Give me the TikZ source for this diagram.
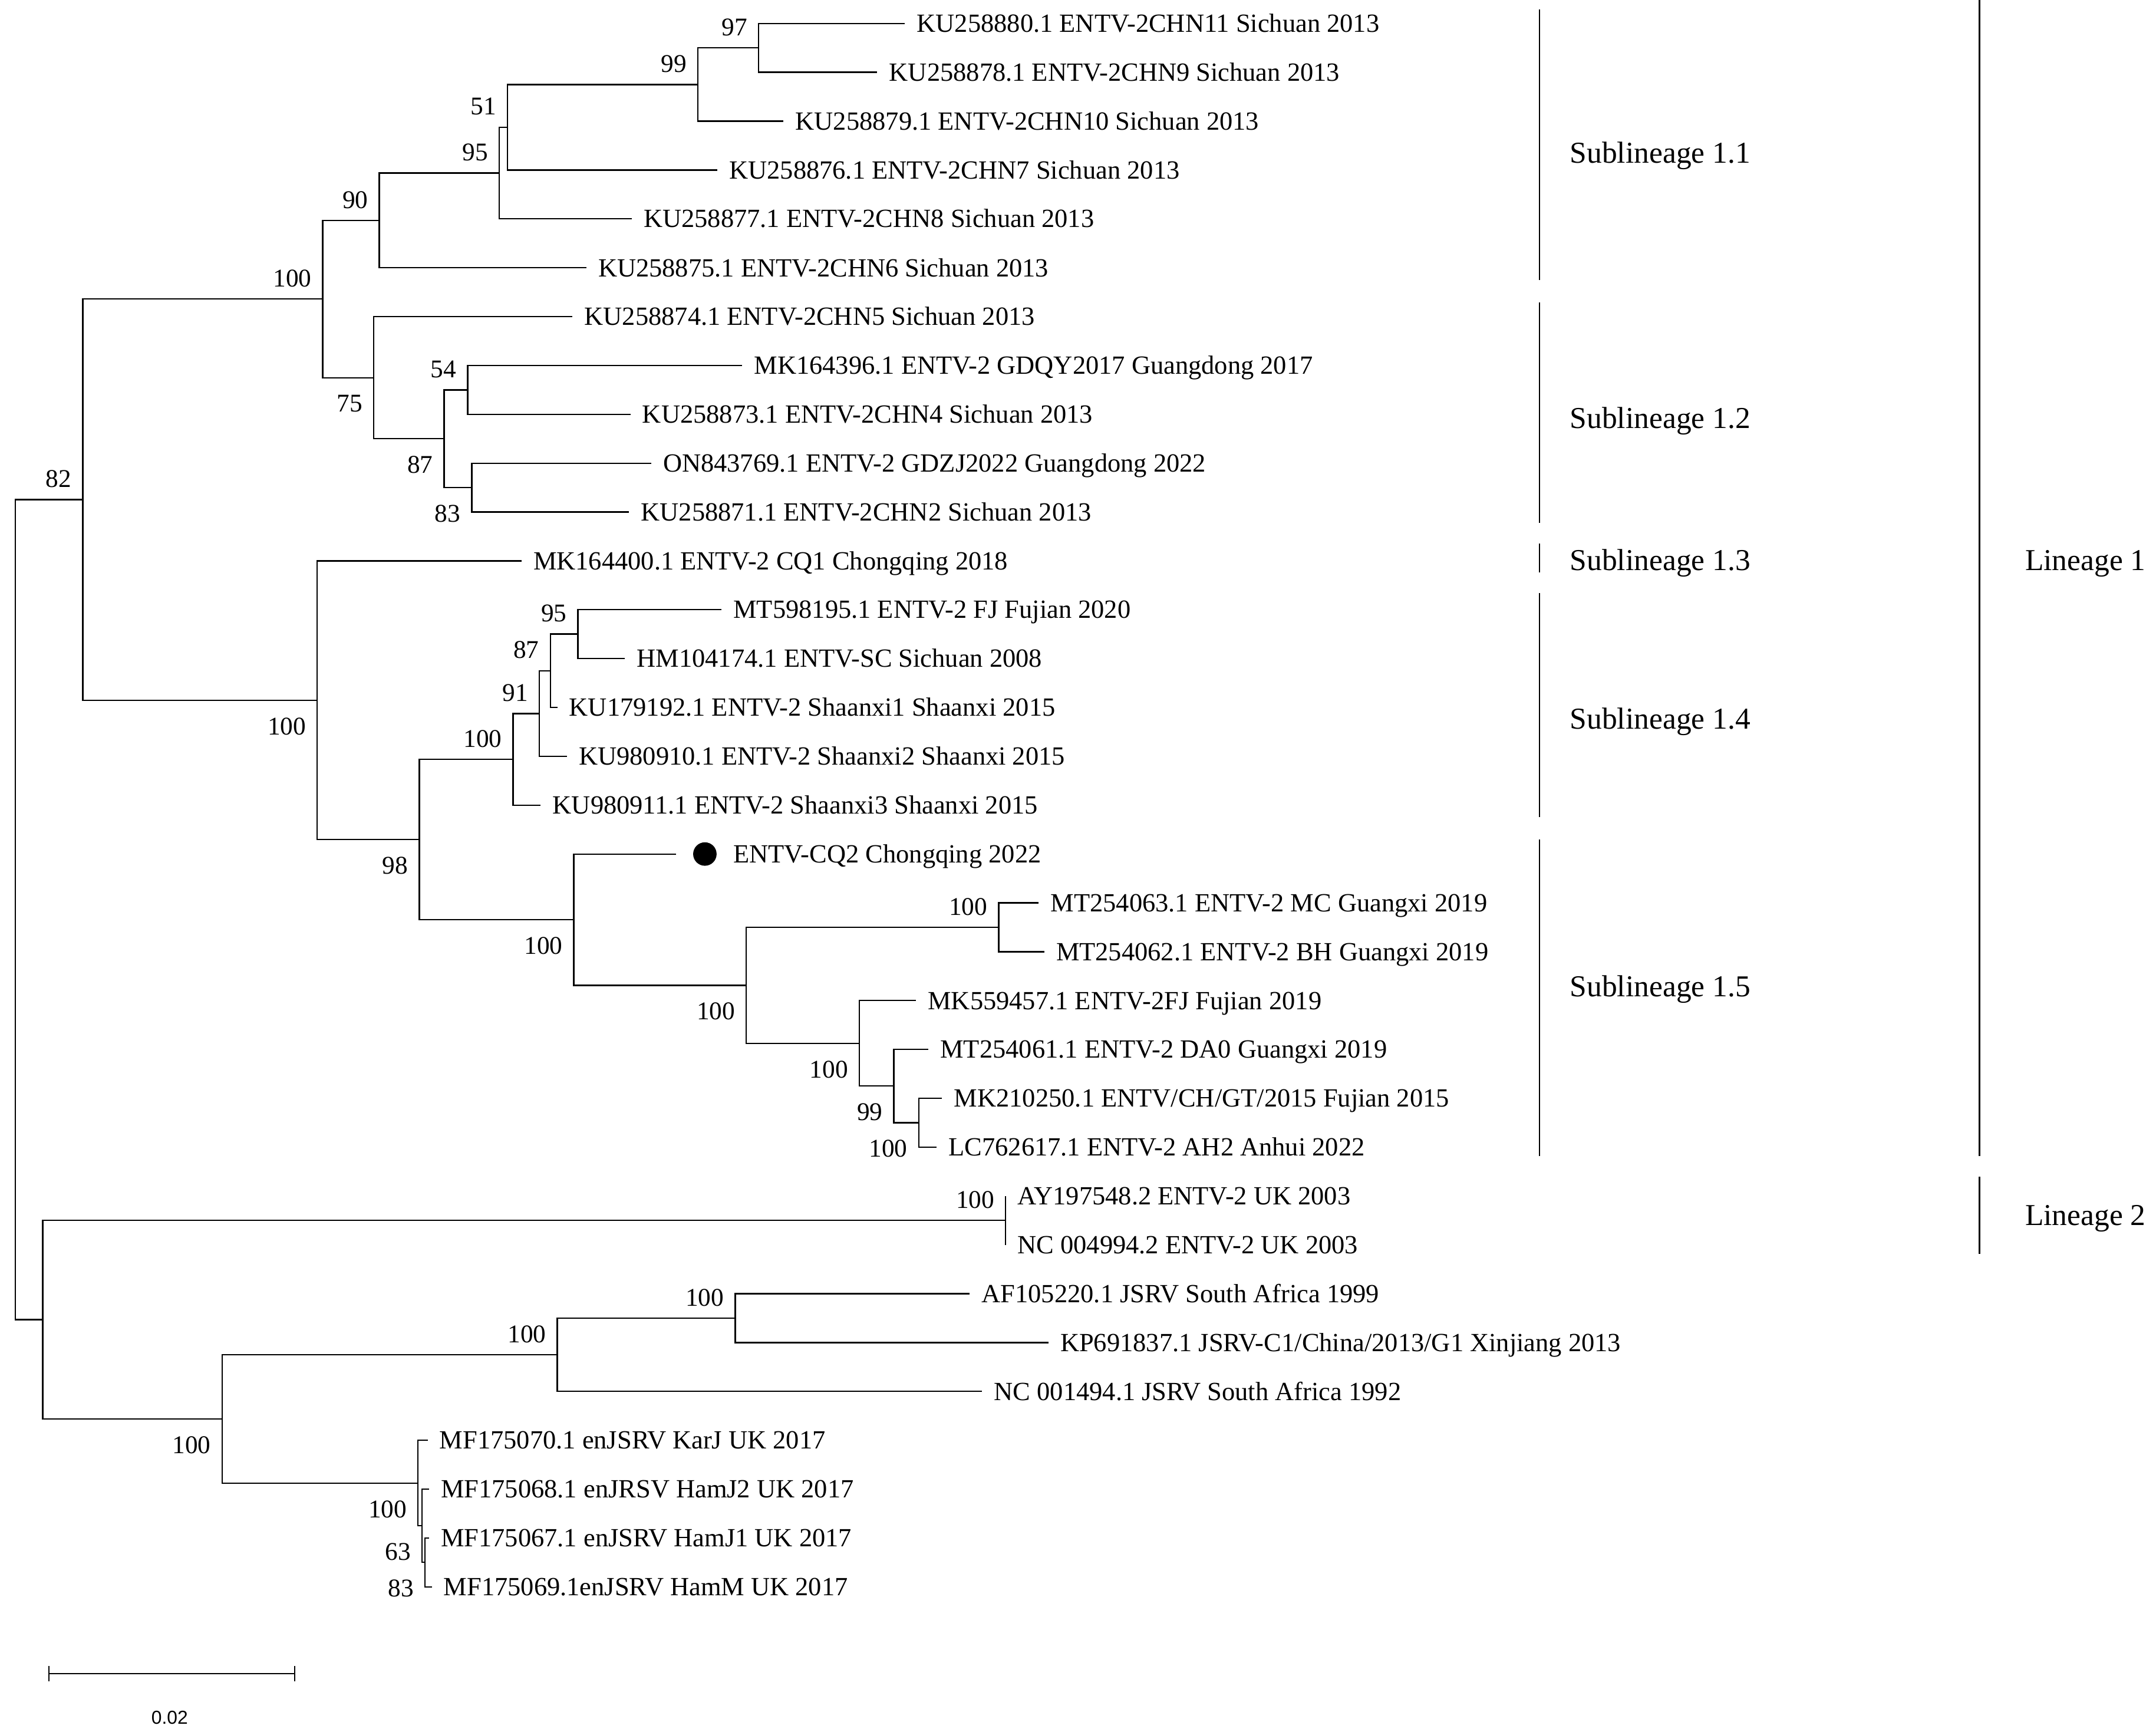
\documentclass[tikz,border=0pt]{standalone}
\usepackage{fontspec}
\setmainfont{Liberation Serif}
\newfontfamily\scalebarfont{Liberation Sans}
\usetikzlibrary{arrows.meta}
\tikzset{
	branch/.style={line width=1pt},
	cladebar/.style={line width=1pt},
	leaf/.style={anchor=west, inner xsep=8.5pt, inner ysep=0pt, text height=12.6pt, text depth=0pt, font=\fontsize{19}{22}\selectfont},
	bup/.style={anchor=south east, inner sep=0pt, xshift=-8pt, yshift=8.5pt, font=\fontsize{18.5}{22}\selectfont},
	bdn/.style={anchor=north east, inner sep=0pt, xshift=-8pt, yshift=-12.5pt, font=\fontsize{18.5}{22}\selectfont},
	clade/.style={anchor=west, inner sep=0pt, text height=14.6pt, text depth=0pt, font=\fontsize{22}{26}\selectfont},
	dot/.style={circle, fill=black, inner sep=0pt, minimum size=17pt},
}
\begin{document}
\begin{tikzpicture}[x=1pt, y=-1pt]
		\useasboundingbox (0,0) rectangle (1563,1255);
		% leaves
		\node[leaf] (ku80) at (656,17.0) {KU258880.1 ENTV-2CHN11 Sichuan 2013};
		\node[leaf] (ku78) at (636,52.4) {KU258878.1 ENTV-2CHN9 Sichuan 2013};
		\node[leaf] (ku79) at (568,87.8) {KU258879.1 ENTV-2CHN10 Sichuan 2013};
		\node[leaf] (ku76) at (520,123.2) {KU258876.1 ENTV-2CHN7 Sichuan 2013};
		\node[leaf] (ku77) at (458,158.6) {KU258877.1 ENTV-2CHN8 Sichuan 2013};
		\node[leaf] (ku75) at (425,194.1) {KU258875.1 ENTV-2CHN6 Sichuan 2013};
		\node[leaf] (ku74) at (415,229.5) {KU258874.1 ENTV-2CHN5 Sichuan 2013};
		\node[leaf] (mk96) at (538,264.9) {MK164396.1 ENTV-2 GDQY2017 Guangdong 2017};
		\node[leaf] (ku73) at (457,300.3) {KU258873.1 ENTV-2CHN4 Sichuan 2013};
		\node[leaf] (on69) at (472,335.7) {ON843769.1 ENTV-2 GDZJ2022 Guangdong 2022};
		\node[leaf] (ku71) at (456,371.1) {KU258871.1 ENTV-2CHN2 Sichuan 2013};
		\node[leaf] (mk00) at (378,406.5) {MK164400.1 ENTV-2 CQ1 Chongqing 2018};
		\node[leaf] (mt95) at (523,441.9) {MT598195.1 ENTV-2 FJ Fujian 2020};
		\node[leaf] (hm74) at (453,477.3) {HM104174.1 ENTV-SC Sichuan 2008};
		\node[leaf] (ku92) at (404,512.7) {KU179192.1 ENTV-2 Shaanxi1 Shaanxi 2015};
		\node[leaf] (ku10) at (411,548.2) {KU980910.1 ENTV-2 Shaanxi2 Shaanxi 2015};
		\node[leaf] (ku11) at (392,583.6) {KU980911.1 ENTV-2 Shaanxi3 Shaanxi 2015};
		\coordinate (cq2end) at (490,619.0);
		\node[dot] (cq2dot) at (511,619.0) {};
		\node[leaf] (cq2) at (523,619.0) {ENTV-CQ2 Chongqing 2022};
		\node[leaf] (mt63) at (753,654.4) {MT254063.1 ENTV-2 MC Guangxi 2019};
		\node[leaf] (mt62) at (757,689.8) {MT254062.1 ENTV-2 BH Guangxi 2019};
		\node[leaf] (mk57) at (664,725.2) {MK559457.1 ENTV-2FJ Fujian 2019};
		\node[leaf] (mt61) at (673,760.6) {MT254061.1 ENTV-2 DA0 Guangxi 2019};
		\node[leaf] (mk50) at (683,796.0) {MK210250.1 ENTV/CH/GT/2015 Fujian 2015};
		\node[leaf] (lc17) at (679,831.4) {LC762617.1 ENTV-2 AH2 Anhui 2022};
		\node[leaf] (ay48) at (729,866.8) {AY197548.2 ENTV-2 UK 2003};
		\node[leaf] (nc94) at (729,902.3) {NC 004994.2 ENTV-2 UK 2003};
		\node[leaf] (af20) at (703,937.7) {AF105220.1 JSRV South Africa 1999};
		\node[leaf] (kp37) at (760,973.1) {KP691837.1 JSRV-C1/China/2013/G1 Xinjiang 2013};
		\node[leaf] (nc14) at (712,1008.5) {NC 001494.1 JSRV South Africa 1992};
		\node[leaf] (mf70) at (310,1043.9) {MF175070.1 enJSRV KarJ UK 2017};
		\node[leaf] (mf68) at (311,1079.3) {MF175068.1 enJRSV HamJ2 UK 2017};
		\node[leaf] (mf67) at (311,1114.7) {MF175067.1 enJSRV HamJ1 UK 2017};
		\node[leaf] (mf69) at (313,1150.1) {MF175069.1enJSRV HamM UK 2017};
		% internal nodes
		\coordinate (n97) at (550,34.7);
		\coordinate (n99) at (506,61.25);
		\coordinate (n51) at (368,92.2);
		\coordinate (n95a) at (362,125.4);
		\coordinate (n90) at (275,159.75);
		\coordinate (n54) at (339,282.6);
		\coordinate (n83a) at (342,353.4);
		\coordinate (n87a) at (322,318);
		\coordinate (n75) at (271,273.75);
		\coordinate (n100a) at (234,216.75);
		\coordinate (n95b) at (419,459.6);
		\coordinate (n87b) at (399,486.15);
		\coordinate (n91) at (391,517.2);
		\coordinate (n100c) at (372,550.4);
		\coordinate (n100e) at (724,672.1);
		\coordinate (n100h) at (666,813.7);
		\coordinate (n99b) at (648,787.15);
		\coordinate (n100g) at (623,756.2);
		\coordinate (n100f) at (541,714.15);
		\coordinate (n100d) at (416,666.6);
		\coordinate (n98) at (304,608.5);
		\coordinate (n100b) at (230,507.5);
		\coordinate (n82) at (60,362.1);
		\coordinate (n100uk) at (729,884.55);
		\coordinate (n100af) at (533,955.4);
		\coordinate (n100nc) at (404,981.95);
		\coordinate (n83b) at (308,1132.4);
		\coordinate (n63) at (306,1105.85);
		\coordinate (n100mf) at (303,1074.9);
		\coordinate (n100js) at (161,1028.4);
		\coordinate (nout) at (31,956.5);
		\coordinate (root) at (11,659.3);
		% branches
		\draw[branch] (n97) |- (ku80.west) (n97) |- (ku78.west);
		\draw[branch] (n99) |- (n97) (n99) |- (ku79.west);
		\draw[branch] (n51) |- (n99) (n51) |- (ku76.west);
		\draw[branch] (n95a) |- (n51) (n95a) |- (ku77.west);
		\draw[branch] (n90) |- (n95a) (n90) |- (ku75.west);
		\draw[branch] (n54) |- (mk96.west) (n54) |- (ku73.west);
		\draw[branch] (n83a) |- (on69.west) (n83a) |- (ku71.west);
		\draw[branch] (n87a) |- (n54) (n87a) |- (n83a);
		\draw[branch] (n75) |- (ku74.west) (n75) |- (n87a);
		\draw[branch] (n100a) |- (n90) (n100a) |- (n75);
		\draw[branch] (n95b) |- (mt95.west) (n95b) |- (hm74.west);
		\draw[branch] (n87b) |- (n95b) (n87b) |- (ku92.west);
		\draw[branch] (n91) |- (n87b) (n91) |- (ku10.west);
		\draw[branch] (n100c) |- (n91) (n100c) |- (ku11.west);
		\draw[branch] (n100e) |- (mt63.west) (n100e) |- (mt62.west);
		\draw[branch] (n100h) |- (mk50.west) (n100h) |- (lc17.west);
		\draw[branch] (n99b) |- (mt61.west) (n99b) |- (n100h);
		\draw[branch] (n100g) |- (mk57.west) (n100g) |- (n99b);
		\draw[branch] (n100f) |- (n100e) (n100f) |- (n100g);
		\draw[branch] (n100d) |- (cq2end) (n100d) |- (n100f);
		\draw[branch] (n98) |- (n100c) (n98) |- (n100d);
		\draw[branch] (n100b) |- (mk00.west) (n100b) |- (n98);
		\draw[branch] (n82) |- (n100a) (n82) |- (n100b);
		\draw[branch] (n100uk) |- (ay48.west) (n100uk) |- (nc94.west);
		\draw[branch] (n100af) |- (af20.west) (n100af) |- (kp37.west);
		\draw[branch] (n100nc) |- (n100af) (n100nc) |- (nc14.west);
		\draw[branch] (n83b) |- (mf67.west) (n83b) |- (mf69.west);
		\draw[branch] (n63) |- (mf68.west) (n63) |- (n83b);
		\draw[branch] (n100mf) |- (mf70.west) (n100mf) |- (n63);
		\draw[branch] (n100js) |- (n100nc) (n100js) |- (n100mf);
		\draw[branch] (nout) |- (n100uk) (nout) |- (n100js);
		\draw[branch] (root) |- (n82) (root) |- (nout);
		% bootstrap values
		\node[bup] (b97) at (n97) {97};
		\node[bup] (b99) at (n99) {99};
		\node[bup] (b51) at (n51) {51};
		\node[bup] (b95a) at (n95a) {95};
		\node[bup] (b90) at (n90) {90};
		\node[bup] (b100a) at (n100a) {100};
		\node[bdn] (b75) at (n75) {75};
		\node[bup] (b54) at (n54) {54};
		\node[bdn] (b87a) at (n87a) {87};
		\node[bdn] (b83a) at (n83a) {83};
		\node[bup] (b82) at (n82) {82};
		\node[bup] (b95b) at (n95b) {95};
		\node[bup] (b87b) at (n87b) {87};
		\node[bup] (b91) at (n91) {91};
		\node[bup] (b100c) at (n100c) {100};
		\node[bdn] (b100b) at (n100b) {100};
		\node[bdn] (b98) at (n98) {98};
		\node[bdn] (b100d) at (n100d) {100};
		\node[bup] (b100e) at (n100e) {100};
		\node[bdn] (b100f) at (n100f) {100};
		\node[bdn] (b100g) at (n100g) {100};
		\node[bdn] (b99b) at (n99b) {99};
		\node[bdn] (b100h) at (n100h) {100};
		\node[bup] (b100uk) at (n100uk) {100};
		\node[bup] (b100af) at (n100af) {100};
		\node[bup] (b100nc) at (n100nc) {100};
		\node[bdn] (b100js) at (n100js) {100};
		\node[bdn] (b100mf) at (n100mf) {100};
		\node[bdn] (b63) at (n63) {63};
		\node[bdn] (b83b) at (n83b) {83};
		% clades
		\draw[cladebar] (1116,7) -- (1116,203);
		\draw[cladebar] (1116,219) -- (1116,379);
		\draw[cladebar] (1116,394) -- (1116,415);
		\draw[cladebar] (1116,430) -- (1116,592);
		\draw[cladebar] (1116,608.5) -- (1116,838);
		\draw[cladebar] (1435,0) -- (1435,838);
		\draw[cladebar] (1435,853) -- (1435,909);
		\node[clade] (s11) at (1138,111) {Sublineage 1.1};
		\node[clade] (s12) at (1138,303) {Sublineage 1.2};
		\node[clade] (s13) at (1138,406) {Sublineage 1.3};
		\node[clade] (s14) at (1138,521) {Sublineage 1.4};
		\node[clade] (s15) at (1138,715) {Sublineage 1.5};
		\node[clade] (lin1) at (1468,406) {Lineage 1};
		\node[clade] (lin2) at (1468,881) {Lineage 2};
		% scale bar
		\coordinate (sbl) at (35,1213);
		\coordinate (sbr) at (214,1213);
		\draw[branch, {Bar[width=11pt]}-{Bar[width=11pt]}] (sbl) -- (sbr);
		\node[font=\scalebarfont\fontsize{13.6}{16}\selectfont, inner sep=0pt] (sbtext) at (123,1245) {0.02};
	\end{tikzpicture}
\end{document}
